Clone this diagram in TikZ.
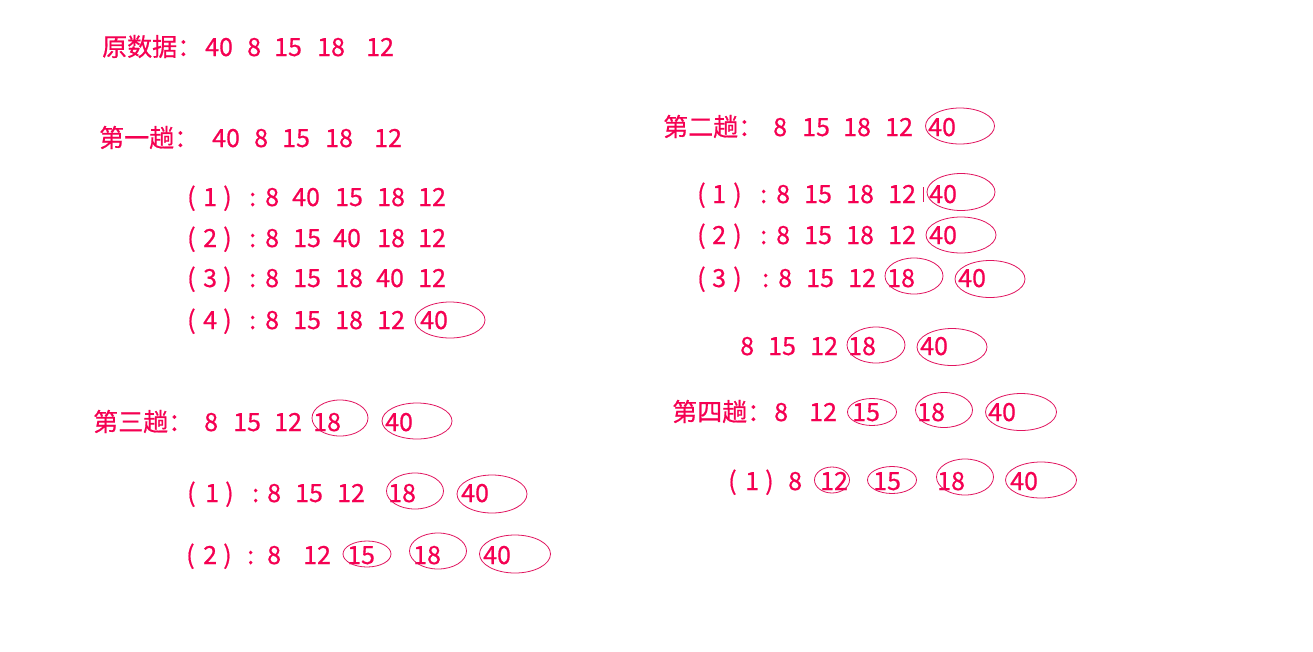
\documentclass[tikz,border=0pt]{standalone}
\usepackage{fontspec}
\setmainfont{Noto Sans CJK SC}[FakeBold=0.6]
\usetikzlibrary{shapes.geometric}
\definecolor{inkred}{RGB}{245,0,82}
\definecolor{ringred}{RGB}{225,20,95}
\tikzset{
  num/.style={font=\fontsize{25}{29}\selectfont,text=inkred,
    anchor=base west,inner sep=0pt},
  ring/.style={ellipse,draw=ringred,line width=0.8pt,inner sep=0pt}
}

\begin{document}
\begin{tikzpicture}[x=1pt,y=-1pt]
  \useasboundingbox[fill=white] (0,0) rectangle (1313,651);
  % original data and first pass
  \foreach \x/\t [count=\i] in {102/原数据：,205/40,247/8,274/15,317/18,366/12}
    \node[num] (src-\i) at (\x,56) {\t};
  \foreach \x/\t [count=\i] in {99/第一趟：,212/40,254/8,282/15,325/18,374/12}
    \node[num] (pa-\i) at (\x,147) {\t};
  \foreach \x/\t [count=\i] in {187/(,203/1,223/),249/:,265/8,292/40,335/15,377/18,418/12}
    \node[num] (pa1-\i) at (\x,206) {\t};
  \foreach \x/\t [count=\i] in {187/(,203/2,223/),249/:,265/8,293/15,333/40,377/18,418/12}
    \node[num] (pa2-\i) at (\x,247) {\t};
  \foreach \x/\t [count=\i] in {187/(,203/3,223/),249/:,265/8,293/15,335/18,376/40,418/12}
    \node[num] (pa3-\i) at (\x,287) {\t};
  \foreach \x/\t [count=\i] in {187/(,203/4,223/),249/:,265/8,293/15,335/18,377/12,420/40}
    \node[num] (pa4-\i) at (\x,329) {\t};
  \node[ring,minimum width=70pt,minimum height=36pt] (ea4) at (450,320) {};
  % second pass
  \foreach \x/\t [count=\i] in {663/第二趟：,773/8,802/15,843/18,885/12,928/40}
    \node[num] (pb-\i) at (\x,136) {\t};
  \node[ring,minimum width=69pt,minimum height=36pt] (eb0) at (960,126) {};
  \foreach \x/\t [count=\i] in {697/(,712/1,733/),760/:,776/8,804/15,846/18,888/12,929/40}
    \node[num] (pb1-\i) at (\x,203) {\t};
  \draw[ringred,line width=0.6pt] (923,187) -- (923,202);
  \node[ring,minimum width=68pt,minimum height=37pt] (eb1) at (961,192) {};
  \foreach \x/\t [count=\i] in {697/(,712/2,733/),760/:,776/8,804/15,846/18,888/12,929/40}
    \node[num] (pb2-\i) at (\x,244) {\t};
  \node[ring,minimum width=70pt,minimum height=36pt] (eb2) at (961,235) {};
  \foreach \x/\t [count=\i] in {697/(,712/3,733/),762/:,778/8,806/15,848/12,887/18,958/40}
    \node[num] (pb3-\i) at (\x,287) {\t};
  \node[ring,minimum width=58pt,minimum height=36pt] (eb3a) at (914,276) {};
  \node[ring,minimum width=70pt,minimum height=37pt] (eb3b) at (990,279) {};
  \foreach \x/\t [count=\i] in {740/8,768/15,810/12,848/18,920/40}
    \node[num] (pb4-\i) at (\x,355) {\t};
  \node[ring,minimum width=58pt,minimum height=36pt] (eb4a) at (876,345) {};
  \node[ring,minimum width=70pt,minimum height=37pt] (eb4b) at (952,347) {};
  % third pass
  \foreach \x/\t [count=\i] in {93/第三趟：,204/8,233/15,274/12,313/18,385/40}
    \node[num] (pc-\i) at (\x,431) {\t};
  \node[ring,minimum width=56pt,minimum height=36pt] (ec0a) at (340,418) {};
  \node[ring,minimum width=70pt,minimum height=36pt] (ec0b) at (417,421) {};
  \foreach \x/\t [count=\i] in {187/(,205/1,225/),252/:,267/8,295/15,337/12,388/18,461/40}
    \node[num] (pc1-\i) at (\x,502) {\t};
  \node[ring,minimum width=57pt,minimum height=36pt] (ec1a) at (415,491) {};
  \node[ring,minimum width=70pt,minimum height=38pt] (ec1b) at (492,494) {};
  \foreach \x/\t [count=\i] in {186/(,203/2,223/),247/:,267/8,303/12,347/15,413/18,483/40}
    \node[num] (pc2-\i) at (\x,564) {\t};
  \node[ring,minimum width=48pt,minimum height=26pt] (ec2a) at (367,554) {};
  \node[ring,minimum width=57pt,minimum height=36pt] (ec2b) at (438,551) {};
  \node[ring,minimum width=71pt,minimum height=38pt] (ec2c) at (515,554) {};
  % fourth pass
  \foreach \x/\t [count=\i] in {672/第四趟：,774/8,809/12,852/15,917/18,988/40}
    \node[num] (pd-\i) at (\x,421) {\t};
  \node[ring,minimum width=49pt,minimum height=27pt] (ed0a) at (872,412) {};
  \node[ring,minimum width=57pt,minimum height=35pt] (ed0b) at (944,410) {};
  \node[ring,minimum width=71pt,minimum height=37pt] (ed0c) at (1021,412) {};
  \foreach \x/\t [count=\i] in {728/(,745/1,765/),788/8,820/12,873/15,937/18,1010/40}
    \node[num] (pd1-\i) at (\x,490) {\t};
  \node[ring,minimum width=35pt,minimum height=26pt] (ed1a) at (832,480) {};
  \node[ring,minimum width=49pt,minimum height=27pt] (ed1b) at (892,480) {};
  \node[ring,minimum width=57pt,minimum height=36pt] (ed1c) at (965,477) {};
  \node[ring,minimum width=71pt,minimum height=36pt] (ed1d) at (1041,480) {};
\end{tikzpicture}
\end{document}
